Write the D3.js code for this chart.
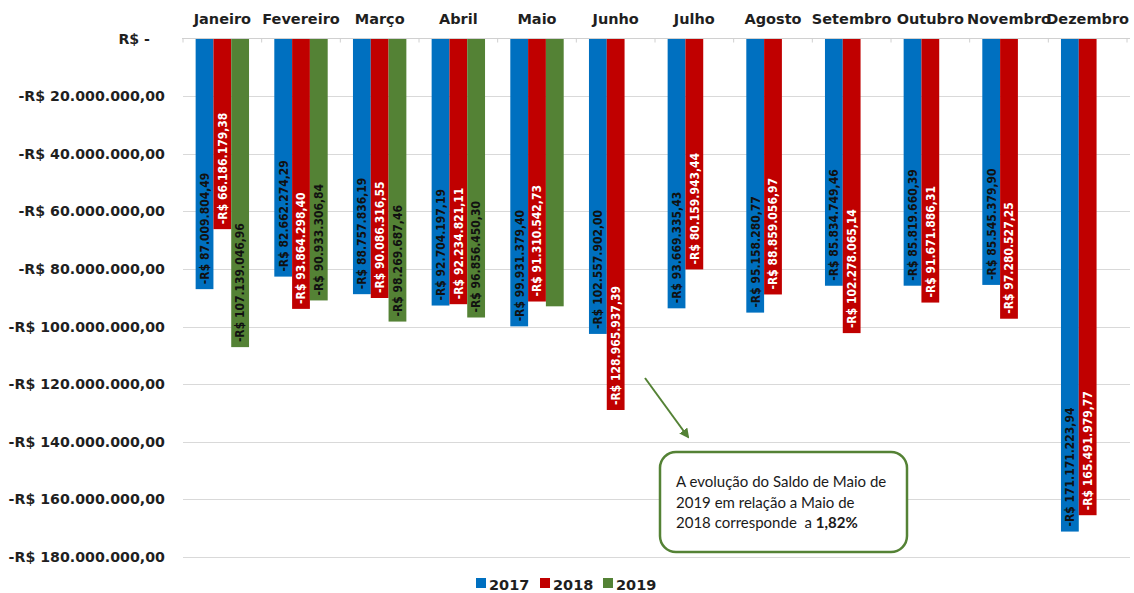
<!DOCTYPE html>
<html><head><meta charset="utf-8">
<script src="https://cdn.jsdelivr.net/npm/d3@7"></script>
<style>
html,body{margin:0;padding:0;background:#fff;}
svg{display:block;}
</style></head>
<body>
<svg id="chart" width="1134" height="593"></svg>
<script>
const months = ["Janeiro","Fevereiro","Março","Abril","Maio","Junho","Julho","Agosto","Setembro","Outubro","Novembro","Dezembro"];
const seriesNames = ["2017","2018","2019"];
const values2017 = [-87009804.49,-82662274.29,-88757836.19,-92704197.19,-99931379.40,-102557902.00,-93669335.43,-95158280.77,-85834749.46,-85819660.39,-85545379.90,-171171223.94];
const values2018 = [-66186179.38,-93864298.40,-90086316.55,-92234821.11,-91310542.73,-128965937.39,-80159943.44,-88859056.97,-102278065.14,-91671886.31,-97280527.25,-165491979.77];
const values2019 = [-107139046.96,-90933306.84,-98269687.46,-96856450.30,-92972000,null,null,null,null,null,null,null];
const showLabel2019 = [true,true,true,true,false,false,false,false,false,false,false,false];
const yTicks = [0,-20000000,-40000000,-60000000,-80000000,-100000000,-120000000,-140000000,-160000000,-180000000];
const colors = ["#0070C0","#C00000","#548235"];
const labelColors = ["#111","#fff","#111"];
const noteLines = ["A evolução do Saldo de Maio de","2019 em relação a Maio de","2018 corresponde  a "];
const noteBold = "1,82%";

(function(){
const seriesValues = [values2017, values2018, values2019];
const svg = d3.select("#chart");
const pLeft = 183, pRight = 1127, pTop = 38.5, pBottom = 557;

const x0 = d3.scaleBand().domain(months).range([pLeft, pRight]).padding(0);
const x1 = d3.scaleBand().domain(seriesNames).range([0, x0.bandwidth()]).paddingInner(0).paddingOuter(0.71);
const y = d3.scaleLinear().domain([0, -180000000]).range([pTop, pBottom]);

const loc = d3.formatLocale({decimal:",", thousands:".", grouping:[3], currency:["R$ ",""], minus:"-"});
const fmt = loc.format("$,.2f");
const fmtVal = v => v === 0 ? "R$ -" : fmt(v);

// gridlines
svg.append("g").selectAll("line").data(yTicks.filter(d=>d!==0)).join("line")
  .attr("x1", pLeft).attr("x2", 1130).attr("y1", d=>Math.round(y(d))+0.5).attr("y2", d=>Math.round(y(d))+0.5)
  .attr("stroke", "#d9d9d9").attr("stroke-width", 1);

// y axis labels
const yAxis = d3.axisLeft(y).tickValues(yTicks).tickFormat(fmtVal).tickSize(0).tickPadding(0);
const yg = svg.append("g").attr("transform", `translate(165,0)`).call(yAxis);
yg.select(".domain").remove();
yg.selectAll("text").attr("font-family","DejaVu Sans, sans-serif").attr("font-weight","bold")
  .attr("font-size","14.2px").attr("fill","#1f1f1f")
  .attr("dx", d => d === 0 ? -15 : 0);

// bars
seriesNames.forEach((s, si) => {
  const data = months.map((m, i) => ({m, v: seriesValues[si][i], i}));
  const g = svg.append("g");
  g.selectAll("rect").data(data.filter(d => d.v !== null)).join("rect")
    .attr("x", d => x0(d.m) + x1(s))
    .attr("y", d => y(0))
    .attr("width", x1.bandwidth())
    .attr("height", d => y(d.v) - y(0))
    .attr("fill", colors[si]);
  g.selectAll("text").data(data.filter(d => d.v !== null && (si !== 2 || showLabel2019[d.i]))).join("text")
    .attr("transform", d => `translate(${x0(d.m) + x1(s) + x1.bandwidth()/2},${y(d.v) - 5}) rotate(-90)`)
    .attr("dy", "0.36em")
    .attr("text-anchor", "start")
    .attr("font-family", "DejaVu Sans Condensed, DejaVu Sans, sans-serif")
    .attr("font-weight", "bold")
    .attr("font-size", "12px")
    .attr("fill", labelColors[si])
    .text(d => fmt(d.v));
});

// top axis
const xAxis = d3.axisTop(x0).tickSize(0).tickPadding(0);
svg.append("line").attr("x1", pLeft-1).attr("x2", 1130).attr("y1", pTop).attr("y2", pTop).attr("stroke","#d0d0d0").attr("stroke-width",1.2);
svg.append("g").selectAll("line").data(d3.range(months.length+1)).join("line")
  .attr("x1", i => pLeft + i*x0.step()).attr("x2", i => pLeft + i*x0.step())
  .attr("y1", pTop).attr("y2", pTop+4).attr("stroke","#d0d0d0");
const xg = svg.append("g").attr("transform", `translate(0,23.5)`).call(xAxis);
xg.select(".domain").remove();
xg.selectAll("text").attr("font-family","DejaVu Sans, sans-serif").attr("font-weight","bold")
  .attr("font-size","14.5px").attr("fill","#1f1f1f").attr("dy","0");

// legend
const legX = [476, 540, 603];
const leg = svg.append("g").selectAll("g").data(seriesNames).join("g")
  .attr("transform", (d,i) => `translate(${legX[i]},578)`);
leg.append("rect").attr("width",10).attr("height",10).attr("fill",(d,i)=>colors[i]);
leg.append("text").attr("x",13).attr("y",11.5).attr("font-family","DejaVu Sans, sans-serif")
  .attr("font-weight","bold").attr("font-size","14.5px").attr("fill","#1f1f1f").text(d=>d);

// arrow annotation
const defs = svg.append("defs");
defs.append("marker").attr("id","arr").attr("viewBox","0 0 10 10").attr("refX",8).attr("refY",5)
  .attr("markerWidth",5).attr("markerHeight",5).attr("orient","auto")
  .append("path").attr("d","M0,0 L10,5 L0,10 z").attr("fill","#548235");
svg.append("line").attr("x1",645).attr("y1",378).attr("x2",688).attr("y2",437)
  .attr("stroke","#548235").attr("stroke-width",2).attr("marker-end","url(#arr)");

svg.append("rect").attr("x",660).attr("y",452).attr("width",247).attr("height",100).attr("rx",16)
  .attr("fill","#fff").attr("stroke","#548235").attr("stroke-width",2.5);
const note = svg.append("text").attr("font-family","Lato, sans-serif").attr("font-size","15px").attr("fill","#1a1a1a")
  .attr("xml:space","preserve");
noteLines.forEach((l, i) => {
  note.append("tspan").attr("x",676).attr("y",487 + i*20.5).text(l);
  if (i === noteLines.length-1) note.append("tspan").attr("font-weight","bold").text(noteBold);
});
})();
</script>
</body></html>
